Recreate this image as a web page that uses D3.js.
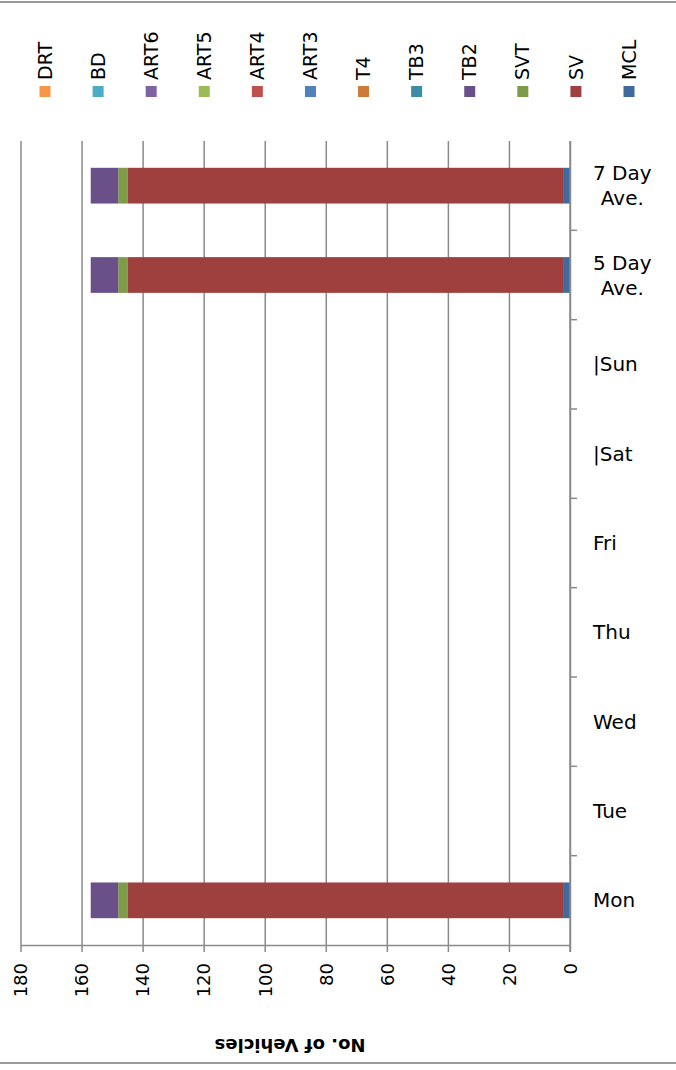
<!DOCTYPE html>
<html>
<head>
<meta charset="utf-8">
<script src="https://cdn.jsdelivr.net/npm/d3@7"></script>
<style>
  html, body { margin: 0; padding: 0; background: #fff; }
  svg { display: block; }
  text { font-family: "DejaVu Sans", sans-serif; fill: #000; }
</style>
</head>
<body>
<svg id="chart" width="676" height="1070"></svg>
<script>
// Categories, bottom to top of the plot
const categories = ["Mon", "Tue", "Wed", "Thu", "Fri", "|Sat", "|Sun", "5 Day\nAve.", "7 Day\nAve."];

// Vehicle classes in stacking order (first sits against the zero line)
const seriesNames = ["MCL", "SV", "SVT", "TB2", "TB3", "T4", "ART3", "ART4", "ART5", "ART6", "BD", "DRT"];
const seriesColors = ["#3F6A9F", "#9E413E", "#7E9B49", "#6A5088", "#3C8DA3", "#CC7B38",
                      "#4F81BD", "#C0504D", "#9BBB59", "#8064A2", "#4BACC6", "#F79646"];

// Counts per category (same order as categories)
const MCL  = [2,   0, 0, 0, 0, 0, 0, 2,   2];
const SV   = [143, 0, 0, 0, 0, 0, 0, 143, 143];
const SVT  = [3,   0, 0, 0, 0, 0, 0, 3,   3];
const TB2  = [9,   0, 0, 0, 0, 0, 0, 9,   9];
const TB3  = [0,   0, 0, 0, 0, 0, 0, 0,   0];
const T4   = [0,   0, 0, 0, 0, 0, 0, 0,   0];
const ART3 = [0,   0, 0, 0, 0, 0, 0, 0,   0];
const ART4 = [0,   0, 0, 0, 0, 0, 0, 0,   0];
const ART5 = [0,   0, 0, 0, 0, 0, 0, 0,   0];
const ART6 = [0,   0, 0, 0, 0, 0, 0, 0,   0];
const BD   = [0,   0, 0, 0, 0, 0, 0, 0,   0];
const DRT  = [0,   0, 0, 0, 0, 0, 0, 0,   0];

const xTickValues = [0, 20, 40, 60, 80, 100, 120, 140, 160, 180];
const axisTitle = "No. of Vehicles";

const seriesValues = [MCL, SV, SVT, TB2, TB3, T4, ART3, ART4, ART5, ART6, BD, DRT];

// Table for d3.stack: one row per category
const table = categories.map((c, i) => {
  const row = { category: c };
  seriesNames.forEach((s, k) => { row[s] = seriesValues[k][i]; });
  return row;
});

const svg = d3.select("#chart");
const W = 676, H = 1070;
const plot = { left: 20.5, right: 570, top: 141, bottom: 945 };
const gray = "#8a8a8a";

// Frame lines
svg.append("line").attr("x1", 0).attr("x2", W).attr("y1", 2).attr("y2", 2)
  .attr("stroke", "#999").attr("stroke-width", 2);
svg.append("line").attr("x1", 0).attr("x2", W).attr("y1", 1063).attr("y2", 1063)
  .attr("stroke", "#999").attr("stroke-width", 2);

// Scales: value axis runs right-to-left, categories bottom-to-top
const x = d3.scaleLinear().domain([0, 180]).range([plot.right, plot.left]);
const y = d3.scaleBand()
  .domain(categories.slice().reverse())
  .range([plot.top, plot.bottom])
  .paddingInner(0.6)
  .paddingOuter(0.3);

// Vertical gridlines
svg.append("g")
  .attr("transform", `translate(0,${plot.bottom})`)
  .call(d3.axisBottom(x).tickValues(xTickValues).tickSize(-(plot.bottom - plot.top)).tickFormat(""))
  .call(g => g.select(".domain").remove())
  .call(g => g.selectAll("line").attr("stroke", gray).attr("stroke-width", 1.5));

// Stacked bars
const stack = d3.stack().keys(seriesNames);
const layers = stack(table);
svg.append("g").selectAll("g")
  .data(layers)
  .join("g")
  .attr("fill", (d, i) => seriesColors[i])
  .selectAll("rect")
  .data(d => d.filter(p => p[1] - p[0] > 0))
  .join("rect")
  .attr("x", p => x(p[1]))
  .attr("width", p => x(p[0]) - x(p[1]))
  .attr("y", p => y(p.data.category))
  .attr("height", y.bandwidth());

// Value axis with rotated tick labels
const xAxis = svg.append("g")
  .attr("transform", `translate(0,${plot.bottom})`)
  .call(d3.axisBottom(x).tickValues(xTickValues).tickSize(7).tickSizeOuter(0).tickFormat(d3.format("d")));
xAxis.select(".domain").attr("stroke", gray).attr("stroke-width", 1.5);
xAxis.selectAll(".tick line").attr("stroke", gray).attr("stroke-width", 1.5);
xAxis.selectAll(".tick text")
  .attr("font-size", 18)
  .attr("font-family", "DejaVu Sans, sans-serif")
  .attr("fill", "#000")
  .attr("text-anchor", "end")
  .attr("x", 0).attr("y", 0).attr("dy", "0.35em")
  .attr("transform", "translate(0,18) rotate(-90)");

// Category axis line and boundary ticks
svg.append("line")
  .attr("x1", plot.right).attr("x2", plot.right)
  .attr("y1", plot.top).attr("y2", plot.bottom + 7)
  .attr("stroke", gray).attr("stroke-width", 1.5);
const step = y.step();
const boundaries = y.domain().slice(1).map(c => y(c) - y.paddingInner() * step / 2);
svg.append("g").selectAll("line")
  .data(boundaries)
  .join("line")
  .attr("x1", plot.right).attr("x2", plot.right + 7)
  .attr("y1", d => d).attr("y2", d => d)
  .attr("stroke", gray).attr("stroke-width", 1.5);

// Category labels (multi-line labels centred within their block)
const labelLeft = 593;
const lineH = 25;
categories.forEach(c => {
  const lines = c.split("\n");
  const cy = y(c) + y.bandwidth() / 2;
  const t = svg.append("text")
    .attr("font-size", 20)
    .attr("text-anchor", "middle");
  lines.forEach((ln, i) => {
    t.append("tspan")
      .attr("y", cy + (i - (lines.length - 1) / 2) * lineH)
      .attr("dy", "0.35em")
      .text(ln);
  });
  const widths = [];
  t.selectAll("tspan").each(function () { widths.push(this.getComputedTextLength()); });
  const blockW = d3.max(widths);
  t.selectAll("tspan").attr("x", labelLeft + blockW / 2);
});

// Legend: rotated names above swatches, right to left in series order
const legendX = d3.scalePoint()
  .domain(seriesNames.slice().reverse())
  .range([45, 629]);
const leg = svg.append("g").selectAll("g")
  .data(seriesNames)
  .join("g")
  .attr("transform", d => `translate(${legendX(d)},0)`);
leg.append("rect")
  .attr("x", -5.5).attr("y", 86)
  .attr("width", 11).attr("height", 11)
  .attr("fill", (d, i) => seriesColors[i]);
leg.append("text")
  .attr("transform", "translate(0,80) rotate(-90)")
  .attr("dy", "0.35em")
  .attr("font-size", 19)
  .attr("text-anchor", "start")
  .text(d => d);

// Axis title, upside down below the value axis
svg.append("text")
  .attr("transform", "translate(290,1039) rotate(180)")
  .attr("text-anchor", "middle")
  .attr("font-size", 18)
  .attr("font-weight", "bold")
  .text(axisTitle);
</script>
</body>
</html>
